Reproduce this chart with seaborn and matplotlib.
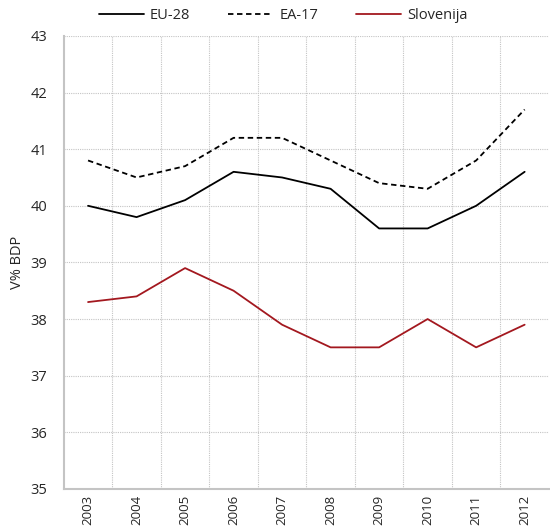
import pandas as pd
import seaborn as sns
import matplotlib.pyplot as plt
from matplotlib.ticker import FixedLocator

years = [2003, 2004, 2005, 2006, 2007, 2008, 2009, 2010, 2011, 2012]
eu28 = [40.0, 39.8, 40.1, 40.6, 40.5, 40.3, 39.6, 39.6, 40.0, 40.6]
ea17 = [40.8, 40.5, 40.7, 41.2, 41.2, 40.8, 40.4, 40.3, 40.8, 41.7]
slovenija = [38.3, 38.4, 38.9, 38.5, 37.9, 37.5, 37.5, 38.0, 37.5, 37.9]
series_names = ["EU-28", "EA-17", "Slovenija"]

df = pd.concat([
    pd.DataFrame({"leto": years, "vrednost": vals, "serija": name})
    for name, vals in zip(series_names, [eu28, ea17, slovenija])
])

sns.set_style("white")
plt.rcParams["font.family"] = ["Open Sans", "DejaVu Sans"]
plt.rcParams["font.size"] = 10.5

fig = plt.figure(figsize=(5.5, 5.28), dpi=100)
ax = fig.add_axes([0.116, 0.074, 0.882, 0.858])

palette = {"EU-28": "#000000", "EA-17": "#000000", "Slovenija": "#a3181f"}
dashes = {"EU-28": "", "EA-17": (3, 2), "Slovenija": ""}
sns.lineplot(data=df, x="leto", y="vrednost", hue="serija", style="serija",
             palette=palette, dashes=dashes, linewidth=1.3, ax=ax, legend=True)

ax.set_xlim(2002.5, 2012.5)
ax.set_ylim(35, 43)
ax.set_xticks(years)
ax.set_xticklabels([str(y) for y in years], rotation=90, fontsize=9.5)
ax.xaxis.set_minor_locator(FixedLocator([y + 0.5 for y in years[:-1]]))
ax.set_yticks(range(35, 44))
ax.grid(False)
grid_kw = dict(color="#c4c4c4", linestyle=(0, (1, 1)), linewidth=0.8)
ax.grid(axis="y", which="major", **grid_kw)
ax.grid(axis="x", which="minor", **grid_kw)
ax.tick_params(axis="both", which="both", length=0)
ax.tick_params(axis="y", pad=12)
ax.tick_params(axis="x", pad=4)

ax.set_xlabel("")
ax.set_ylabel("V% BDP", labelpad=4)
for side in ["top", "right"]:
    ax.spines[side].set_visible(False)
for side in ["left", "bottom"]:
    ax.spines[side].set_color("#c4c4c4")
    ax.spines[side].set_linewidth(1.5)

handles, labels = ax.get_legend_handles_labels()
ax.legend_.remove()
fig.legend(handles, labels, loc="center", bbox_to_anchor=(0.515, 0.97), ncol=3,
           frameon=False, handlelength=3.1, columnspacing=2.6, handletextpad=0.4)

fig.savefig("out.png", dpi=100)
